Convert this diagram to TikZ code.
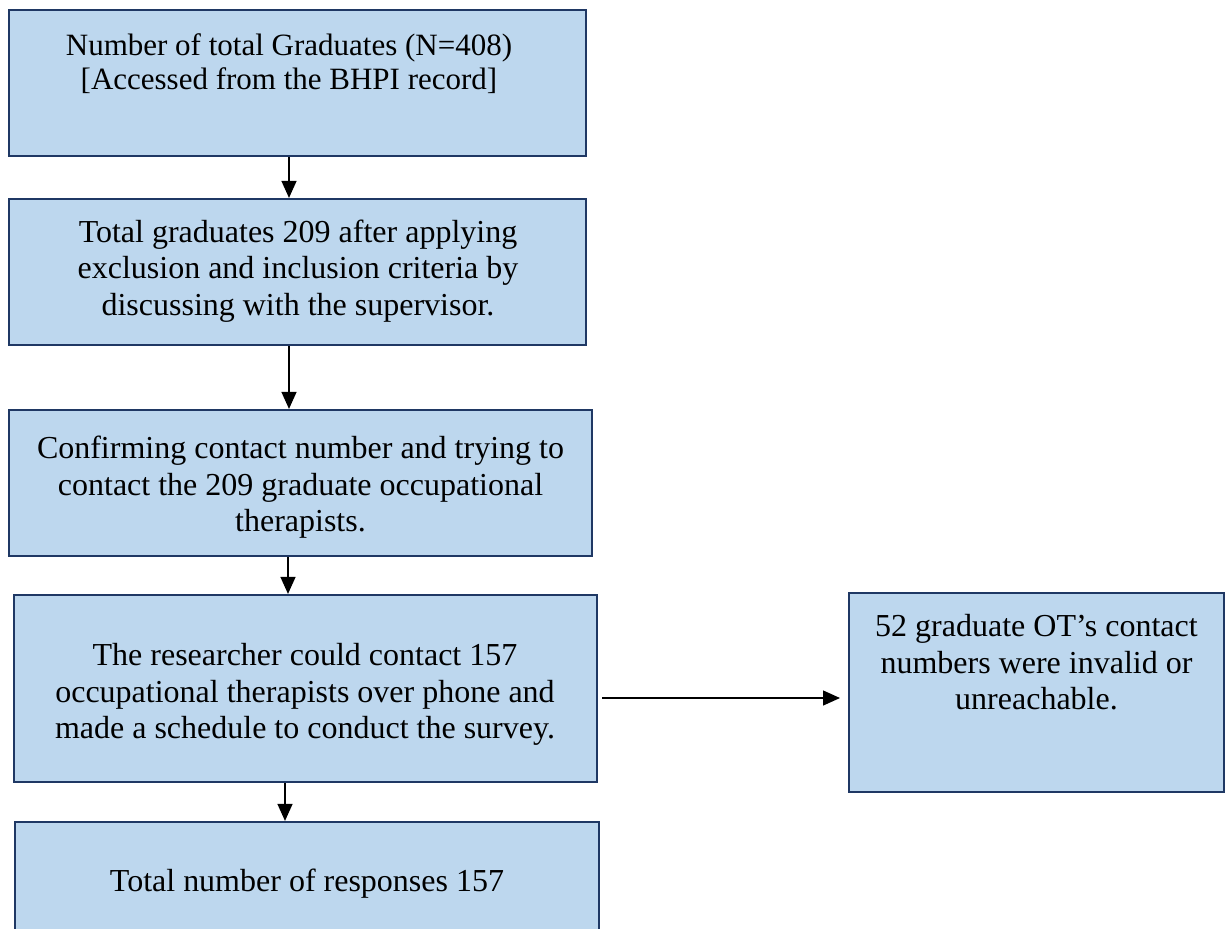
\documentclass[tikz,border=0pt]{standalone}
\usepackage{fontspec}
\setmainfont{Liberation Serif}
\usetikzlibrary{arrows.meta}
\definecolor{boxfill}{HTML}{BDD7EE}
\definecolor{boxline}{HTML}{1F3864}
\tikzset{
  flowbox/.style={draw=boxline, fill=boxfill, line width=2.2pt, inner sep=0pt, rectangle},
  flowtext/.style={align=center, inner sep=0pt, font=\fontsize{32}{36.5}\selectfont},
  arr/.style={line width=1.3pt, -{Triangle[length=17pt,width=15pt]}}
}
\begin{document}
\begin{tikzpicture}[x=1pt,y=-1pt]
\useasboundingbox (0,0) rectangle (1227,929);
% boxes
\node[flowbox, minimum width=577pt, minimum height=146pt] (b1) at (297.5,83) {};
\node[flowbox, minimum width=577pt, minimum height=146pt] (b2) at (297.5,272) {};
\node[flowbox, minimum width=583pt, minimum height=146pt] (b3) at (300.5,483) {};
\node[flowbox, minimum width=583pt, minimum height=187pt] (b4) at (305.5,688.5) {};
\node[flowbox, minimum width=584pt, minimum height=150pt] (b5) at (307,897) {};
\node[flowbox, minimum width=375pt, minimum height=199pt] (b6) at (1036.5,692.5) {};
% texts
\node[flowtext, font=\fontsize{31}{34}\selectfont] (t1) at (289,63.5) {Number of total Graduates (N=408)\\{}[Accessed from the BHPI record]};
\node[flowtext] (t2) at (298,271) {Total graduates 209 after applying\\exclusion and inclusion criteria by\\discussing with the supervisor.};
\node[flowtext] (t3) at (300.5,487.5) {Confirming contact number and trying to\\contact the 209 graduate occupational\\therapists.};
\node[flowtext] (t4) at (305,694.5) {The researcher could contact 157\\occupational therapists over phone and\\made a schedule to conduct the survey.};
\node[flowtext] (t5) at (307,883.5) {Total number of responses 157};
\node[flowtext] (t6) at (1036.5,662.5) {52 graduate OT’s contact\\numbers were invalid or\\unreachable.};
% arrow columns
\coordinate (c12) at (289,0);
\coordinate (c23) at (289,0);
\coordinate (c34) at (288,0);
\coordinate (c45) at (285,0);
\coordinate (s46) at (601,698);
\coordinate (e46) at (840,698);
\draw[arr] (b1.south -| c12) -- (b2.north -| c12);
\draw[arr] (b2.south -| c23) -- (b3.north -| c23);
\draw[arr] (b3.south -| c34) -- (b4.north -| c34);
\draw[arr] (b4.south -| c45) -- (b5.north -| c45);
\draw[arr] (b4.east |- s46) ++(4,0) -- (e46);
\end{tikzpicture}
\end{document}
